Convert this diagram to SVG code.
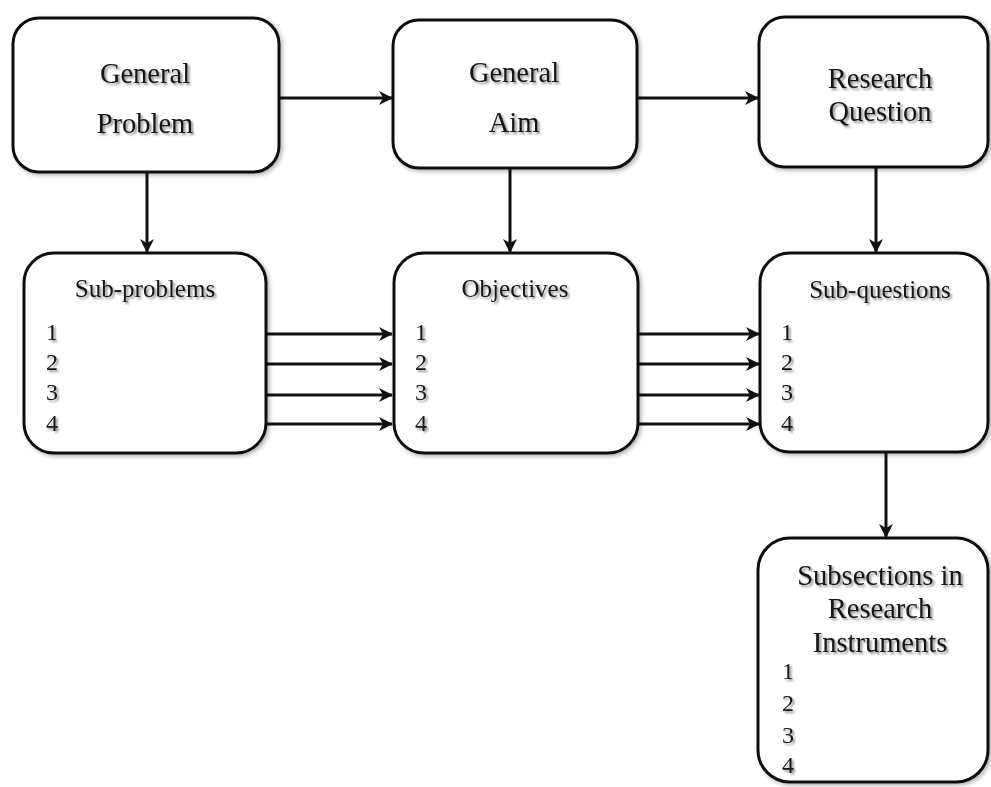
<svg xmlns="http://www.w3.org/2000/svg" width="991" height="787" viewBox="0 0 991 787">
<defs>
<style>
.box{fill:#fff;stroke:#111;stroke-width:3;filter:url(#sh)}
.t{font-family:"Liberation Serif","Times New Roman",serif;fill:#141414;text-anchor:middle;filter:url(#tsh)}
.big{font-size:28.5px}
.mid{font-size:25px}
.num{font-family:"Liberation Serif","Times New Roman",serif;fill:#141414;font-size:24px;filter:url(#tsh)}
.c{stroke:#111;stroke-width:3;fill:none;marker-end:url(#ah)}
</style>
<filter id="sh" x="-10%" y="-10%" width="125%" height="125%">
<feDropShadow dx="2" dy="2" stdDeviation="2" flood-color="#000" flood-opacity="0.3"/>
</filter>
<filter id="tsh" x="-10%" y="-20%" width="125%" height="150%">
<feDropShadow dx="2" dy="2" stdDeviation="1.2" flood-color="#000" flood-opacity="0.45"/>
</filter>
<marker id="ah" viewBox="0 0 14 14" refX="13" refY="7" markerWidth="14" markerHeight="14" markerUnits="userSpaceOnUse" orient="auto">
<path d="M0,0 L14,7 L0,14 L4,7 z" fill="#111"/>
</marker>
</defs>
<rect width="991" height="787" fill="#fff"/>
<g id="connectors">
<line class="c" x1="280" y1="98" x2="392" y2="98"/>
<line class="c" x1="638" y1="98" x2="758" y2="98"/>
<line class="c" x1="147" y1="173" x2="147" y2="252"/>
<line class="c" x1="510" y1="169" x2="510" y2="252"/>
<line class="c" x1="876" y1="168" x2="876" y2="252"/>
<line class="c" x1="886" y1="453" x2="886" y2="537"/>
<line class="c" x1="267" y1="334" x2="392" y2="334"/>
<line class="c" x1="267" y1="364" x2="392" y2="364"/>
<line class="c" x1="267" y1="395" x2="392" y2="395"/>
<line class="c" x1="267" y1="424" x2="392" y2="424"/>
<line class="c" x1="639" y1="334" x2="759" y2="334"/>
<line class="c" x1="639" y1="364" x2="759" y2="364"/>
<line class="c" x1="639" y1="395" x2="759" y2="395"/>
<line class="c" x1="639" y1="424" x2="759" y2="424"/>
</g>
<g id="general-problem">
<rect class="box" x="13" y="18" width="266" height="154" rx="26"/>
<text class="t big" x="145" y="83">General</text>
<text class="t big" x="145" y="133">Problem</text>
</g>
<g id="general-aim">
<rect class="box" x="393" y="20" width="244" height="148" rx="26"/>
<text class="t big" x="514" y="82">General</text>
<text class="t big" x="514" y="132">Aim</text>
</g>
<g id="research-question">
<rect class="box" x="759" y="17" width="229" height="150" rx="26"/>
<text class="t big" x="880" y="88">Research</text>
<text class="t big" x="880" y="121">Question</text>
</g>
<g id="sub-problems">
<rect class="box" x="24" y="253" width="242" height="200" rx="30"/>
<text class="t mid" x="145" y="297">Sub-problems</text>
<text class="num" x="46" y="340">1</text>
<text class="num" x="46" y="370">2</text>
<text class="num" x="46" y="400">3</text>
<text class="num" x="46" y="431">4</text>
</g>
<g id="objectives">
<rect class="box" x="394" y="253" width="244" height="200" rx="30"/>
<text class="t mid" x="515" y="297">Objectives</text>
<text class="num" x="415" y="340">1</text>
<text class="num" x="415" y="370">2</text>
<text class="num" x="415" y="400">3</text>
<text class="num" x="415" y="431">4</text>
</g>
<g id="sub-questions">
<rect class="box" x="760" y="253" width="228" height="199" rx="30"/>
<text class="t mid" x="880" y="298">Sub-questions</text>
<text class="num" x="781" y="340">1</text>
<text class="num" x="781" y="370">2</text>
<text class="num" x="781" y="400">3</text>
<text class="num" x="781" y="431">4</text>
</g>
<g id="subsections">
<rect class="box" x="758" y="538" width="230" height="244" rx="32"/>
<text class="t big" x="880" y="585">Subsections in</text>
<text class="t big" x="880" y="618">Research</text>
<text class="t big" x="880" y="652">Instruments</text>
<text class="num" x="782" y="679">1</text>
<text class="num" x="782" y="711">2</text>
<text class="num" x="782" y="743">3</text>
<text class="num" x="782" y="773">4</text>
</g>
</svg>
